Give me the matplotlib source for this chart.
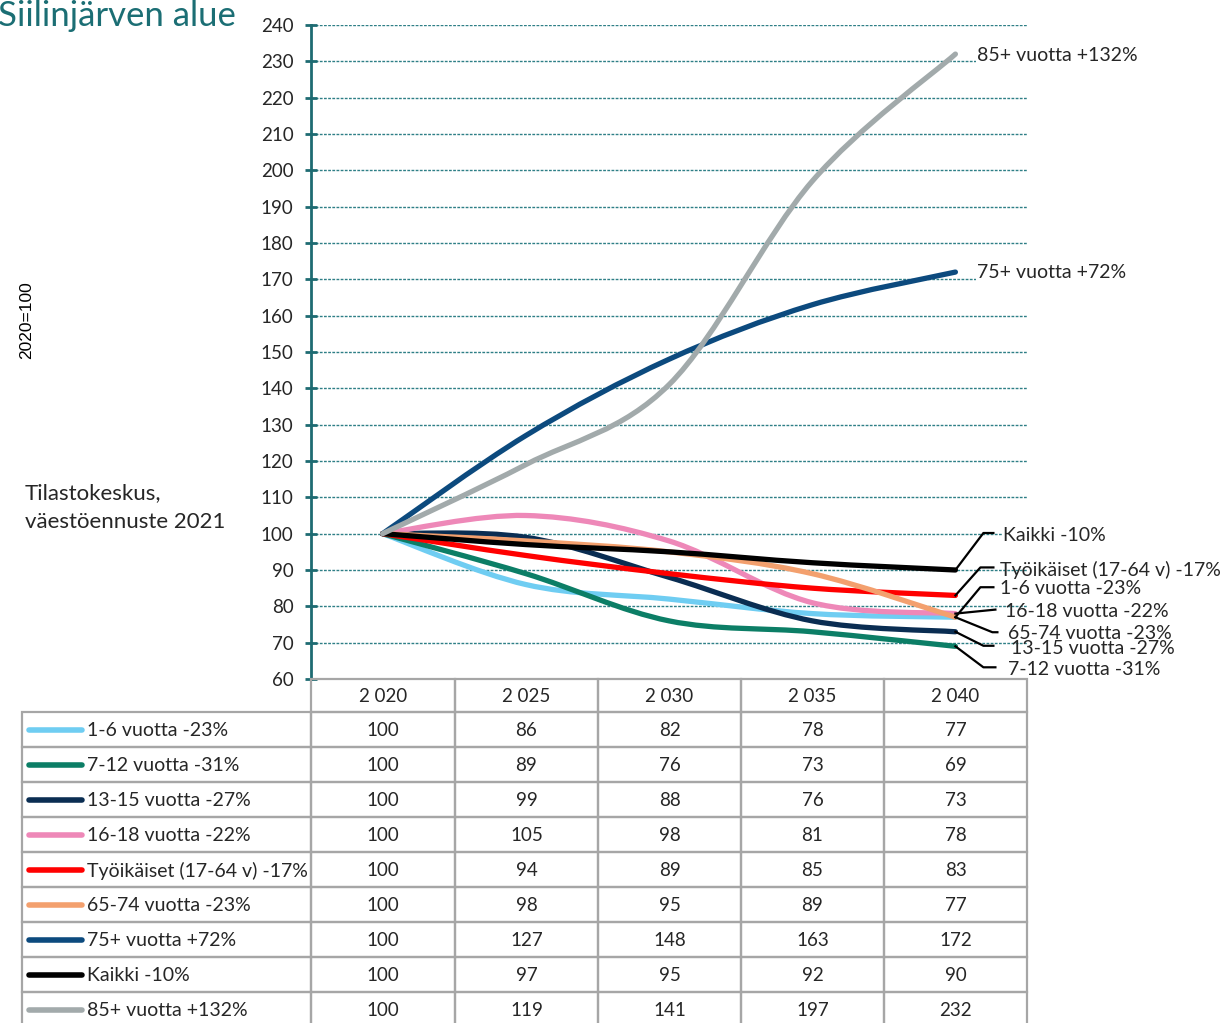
import numpy as np
import matplotlib.pyplot as plt
from matplotlib.path import Path
from matplotlib.patches import PathPatch, Rectangle
from matplotlib.lines import Line2D

plt.rcParams['font.family'] = ['Lato', 'DejaVu Sans']

W, H = 1225, 1023

# data (2020 = 100)
years = ['2 020', '2 025', '2 030', '2 035', '2 040']
names = ['1-6 vuotta -23%', '7-12 vuotta -31%', '13-15 vuotta -27%',
         '16-18 vuotta -22%', 'Työikäiset (17-64 v) -17%', '65-74 vuotta -23%',
         '75+ vuotta +72%', 'Kaikki -10%', '85+ vuotta +132%']
v_1_6 = [100, 86, 82, 78, 77]
v_7_12 = [100, 89, 76, 73, 69]
v_13_15 = [100, 99, 88, 76, 73]
v_16_18 = [100, 105, 98, 81, 78]
v_tyo = [100, 94, 89, 85, 83]
v_65_74 = [100, 98, 95, 89, 77]
v_75 = [100, 127, 148, 163, 172]
v_kaikki = [100, 97, 95, 92, 90]
v_85 = [100, 119, 141, 197, 232]
values = [v_1_6, v_7_12, v_13_15, v_16_18, v_tyo, v_65_74, v_75, v_kaikki, v_85]

colors = ['#6FCDF2', '#0C7E66', '#0A2D52', '#EE88B8', '#FF0000',
          '#F3A06E', '#0C4A7E', '#000000', '#A2AAAB']

# label offsets from line end (image px, y down): corner, end of leader, text pos
label_pos = [
    ((25, -30), (38, -30), (45, -30), False),   # 1-6
    ((28, 21), (40, 21), (53, 22), False),      # 7-12
    ((28, 14), (38, 14), (56, 15), False),      # 13-15
    ((40, -4), (40, -4), (50, -4), False),      # 16-18
    ((25, -28), (38, -28), (45, -27), False),   # tyoikaiset
    ((37, 15), (42, 15), (53, 15), False),      # 65-74
    (None, None, (22, -1), True),               # 75+
    ((28, -37), (38, -37), (48, -36), True),    # kaikki
    (None, None, (22, 0), True),                # 85+
]

teal = '#1E6B72'
grey = '#A6A6A6'


def smooth_path(xs, ys):
    # excel-style smoothed line (cubic bezier through the points)
    p = np.column_stack([xs, ys]).astype(float)
    ext = np.vstack([p[0], p, p[-1]])
    verts = [p[0]]
    codes = [Path.MOVETO]
    for i in range(len(p) - 1):
        c1 = ext[i + 1] + (ext[i + 2] - ext[i]) / 6
        c2 = ext[i + 2] - (ext[i + 3] - ext[i + 1]) / 6
        verts += [c1, c2, p[i + 1]]
        codes += [Path.CURVE4] * 3
    return Path(verts, codes)


def fx(px):
    return px / W


def fy(py):
    return 1 - py / H


fig = plt.figure(figsize=(W / 100, H / 100), dpi=100)
ax = fig.add_axes([fx(311), fy(679), fx(1027) - fx(311), fy(25) - fy(679)])

x = np.arange(len(years))
for vals, c in zip(values, colors):
    ax.add_patch(PathPatch(smooth_path(x, vals), fill=False, edgecolor=c, lw=3.8,
                           capstyle='round', joinstyle='round', zorder=3))

ax.set_xlim(-0.5, len(years) - 0.5)
ax.set_ylim(60, 240)
ax.set_yticks(range(60, 241, 10))
ax.set_xticks([])
for yv in range(70, 241, 10):
    ax.axhline(yv, color='#2E7F86', lw=1, ls=(0, (2, 1)), zorder=1)
for s in ['top', 'right', 'bottom']:
    ax.spines[s].set_visible(False)
ax.spines['left'].set_color(teal)
ax.spines['left'].set_linewidth(2)
ax.tick_params(axis='y', direction='inout', length=9, width=2, color=teal,
               labelsize=13.5, labelcolor='#262626', pad=8)

# data labels with leader lines
for name, vals, (corner, end, tpos, box) in zip(names, values, label_pos):
    ax_px = ax.transData.transform((x[-1], vals[-1]))
    x0, y0 = ax_px[0], H - ax_px[1]
    if corner is not None:
        xs = [x0, x0 + corner[0], x0 + end[0]]
        ys = [y0, y0 + corner[1], y0 + end[1]]
        fig.add_artist(Line2D([fx(v) for v in xs], [fy(v) for v in ys],
                              color='black', lw=1.6, transform=fig.transFigure))
    kw = dict(facecolor='white', edgecolor='none', pad=1) if box else None
    fig.text(fx(x0 + tpos[0]), fy(y0 + tpos[1] + 1.5), name, fontsize=14,
             color='#262626', ha='left', va='center', bbox=kw)

# texts on the left
fig.text(fx(-2), fy(26), 'Siilinjärven alue', fontsize=25, color='#1B6E74',
         ha='left', va='baseline')
fig.text(fx(27), fy(320), '2020=100', fontsize=12.5, rotation=90,
         family='Liberation Sans', ha='center', va='center')
fig.text(fx(25), fy(493), 'Tilastokeskus,', fontsize=16, color='#262626',
         ha='left', va='center')
fig.text(fx(25), fy(522), 'väestöennuste 2021', fontsize=16, color='#262626',
         ha='left', va='center')

# data table under the chart
col_edges = [22, 311, 455, 598, 741, 884, 1027]
head_top, head_bot, row_h = 679, 712, 35


def cell(x0, y0, x1, y1):
    fig.add_artist(Rectangle((fx(x0), fy(y1)), fx(x1) - fx(x0), fy(y0) - fy(y1),
                             fill=False, edgecolor=grey, lw=1.6,
                             transform=fig.transFigure))


for j, yr in enumerate(years):
    cell(col_edges[j + 1], head_top, col_edges[j + 2], head_bot)
    fig.text(fx((col_edges[j + 1] + col_edges[j + 2]) / 2), fy((head_top + head_bot) / 2 + 1),
             yr, fontsize=13.5, color='#262626', ha='center', va='center')

for i, (name, vals, c) in enumerate(zip(names, values, colors)):
    top = head_bot + i * row_h
    bot = top + row_h
    mid = (top + bot) / 2
    cell(col_edges[0], top, col_edges[1], bot)
    fig.add_artist(Line2D([fx(29), fx(82)], [fy(mid), fy(mid)], color=c, lw=4,
                          solid_capstyle='round', transform=fig.transFigure))
    fig.text(fx(87), fy(mid + 1), name, fontsize=14, color='#262626',
             ha='left', va='center')
    for j, v in enumerate(vals):
        cell(col_edges[j + 1], top, col_edges[j + 2], bot)
        fig.text(fx((col_edges[j + 1] + col_edges[j + 2]) / 2), fy(mid + 1), str(v),
                 fontsize=13.5, color='#262626', ha='center', va='center')

fig.savefig('out.png', dpi=100)
